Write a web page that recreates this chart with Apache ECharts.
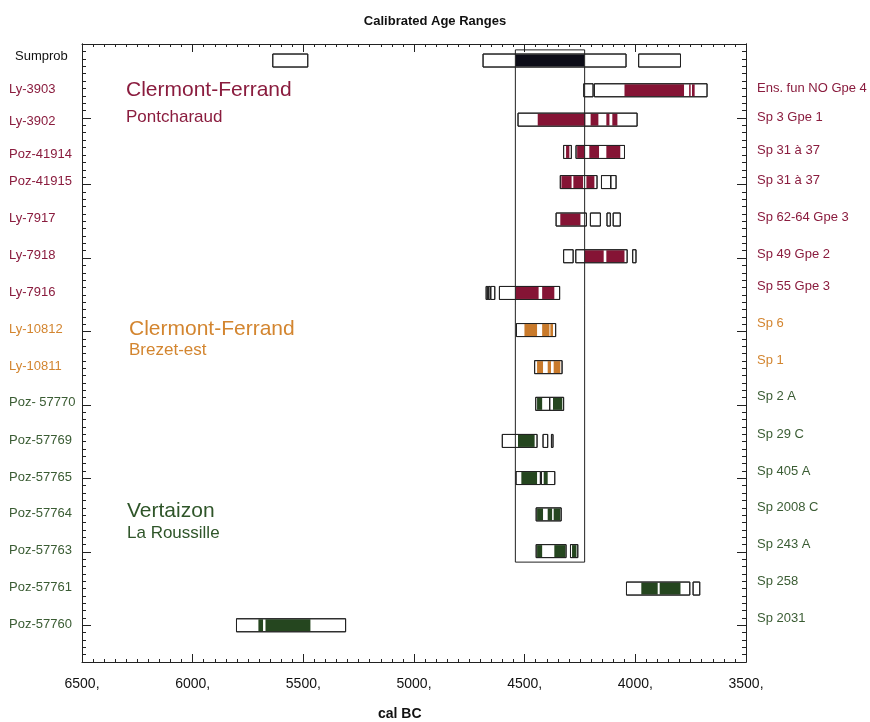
<!DOCTYPE html>
<html>
<head>
<meta charset="utf-8">
<script src="https://cdn.jsdelivr.net/npm/echarts@6/dist/echarts.min.js"></script>
<style>
  html, body { margin: 0; padding: 0; background: #fff; }
  #chart { width: 870px; height: 722px; }
</style>
</head>
<body>
<div id="chart"></div>
<script>
// echantillons (de haut en bas)
var labelsLeft = ['Sumprob', 'Ly-3903', 'Ly-3902', 'Poz-41914', 'Poz-41915', 'Ly-7917', 'Ly-7918', 'Ly-7916',
    'Ly-10812', 'Ly-10811', 'Poz- 57770', 'Poz-57769', 'Poz-57765', 'Poz-57764', 'Poz-57763', 'Poz-57761', 'Poz-57760'];
var labelsRight = ['', 'Ens. fun NO Gpe 4', 'Sp 3 Gpe 1', 'Sp 31 à 37', 'Sp 31 à 37', 'Sp 62-64 Gpe 3', 'Sp 49 Gpe 2', 'Sp 55 Gpe 3',
    'Sp 6', 'Sp 1', 'Sp 2 A', 'Sp 29 C', 'Sp 405 A', 'Sp 2008 C', 'Sp 243 A', 'Sp 258', 'Sp 2031'];
// 0 = somme, 1 = Pontcharaud, 2 = Brezet-est, 3 = Vertaizon
var rowGroup = [0, 1, 1, 1, 1, 1, 1, 1, 2, 2, 3, 3, 3, 3, 3, 3, 3];
// position verticale de chaque ligne
var rowPos = [15.38, 14.57, 13.77, 12.89, 12.07, 11.05, 10.05, 9.05, 8.04, 7.03, 6.03, 5.02, 4.01, 3.02, 2.02, 1, 0];
// intervalles 95,4 % (cadres blancs), cal BC
var ranges95 = [
    [[5638, 5480], [4688, 4042], [3985, 3796]],
    [[4233, 4191], [4185, 3676]],
    [[4530, 3992]],
    [[4324, 4289], [4268, 4049]],
    [[4339, 4173], [4153, 4111], [4111, 4087]],
    [[4358, 4221], [4203, 4158], [4128, 4113], [4100, 4068]],
    [[4324, 4281], [4269, 4037], [4012, 3997]],
    [[4674, 4667], [4664, 4656], [4653, 4635], [4614, 4342]],
    [[4537, 4360]],
    [[4455, 4331]],
    [[4450, 4387], [4387, 4324]],
    [[4601, 4444], [4417, 4396], [4379, 4372]],
    [[4539, 4429], [4424, 4364]],
    [[4448, 4335]],
    [[4448, 4313], [4293, 4260]],
    [[4040, 3754], [3739, 3709]],
    [[5802, 5309]]
];
// intervalles 68,2 % (remplis)
var ranges68 = [
    [[4542, 4230]],
    [[4049, 3780], [3757, 3750], [3744, 3732]],
    [[4441, 4226], [4202, 4167], [4131, 4117], [4104, 4081]],
    [[4313, 4298], [4263, 4229], [4208, 4164], [4131, 4068]],
    [[4334, 4288], [4280, 4236], [4221, 4185]],
    [[4339, 4248]],
    [[4229, 4143], [4131, 4049]],
    [[4542, 4437], [4421, 4366]],
    [[4501, 4444], [4421, 4388], [4384, 4372]],
    [[4444, 4417], [4396, 4381], [4369, 4339]],
    [[4444, 4421], [4372, 4330]],
    [[4530, 4455]],
    [[4515, 4444], [4414, 4396]],
    [[4444, 4417], [4396, 4376], [4369, 4339]],
    [[4444, 4421], [4366, 4316], [4286, 4266]],
    [[3973, 3899], [3890, 3796]],
    [[5703, 5682], [5671, 5468]]
];
// cadre de la somme : de / a (cal BC), haut / bas
var sumFrame = [4542, 4229, 15.67, 1.72];

var fillColors = ['#0d0d18', '#851435', '#c97a2b', '#25461f'];
var textColors = ['#111111', '#8a1c3e', '#d3852f', '#3a5c33'];
var FONT = '"Liberation Sans", Arial, sans-serif';

// graduations de l'axe vertical
var yMajor = [0, 2, 4, 6, 8, 10, 12, 13.82];
var yMinor = [];
(function () {
    var v, k;
    for (k = 1; k < 65; k++) {
        v = -1 + k * 0.2;
        if (Math.abs(v - Math.round(v / 2) * 2) > 0.05) {
            yMinor.push(+v.toFixed(2));
        }
    }
    for (k = 1; k < 9; k++) {
        yMinor.push(12 + k * 1.82 / 9);
    }
    for (k = 1; k < 10; k++) {
        yMinor.push(13.82 + k * 0.2);
    }
})();

function renderRow(params, api) {
    var i = api.value(0);
    var y = rowPos[i];
    var h = 13;
    var g = rowGroup[i];
    var children = [];
    var c = api.coord([4500, y]);
    function box(r) {
        var p0 = api.coord([r[0], y]), p1 = api.coord([r[1], y]);
        return { x: Math.min(p0[0], p1[0]), w: Math.abs(p1[0] - p0[0]) };
    }
    ranges95[i].forEach(function (r) {
        var b = box(r);
        children.push({ type: 'rect', shape: { x: b.x, y: c[1] - h / 2, width: b.w, height: h },
            style: { fill: '#fff', stroke: '#222', lineWidth: 1 } });
    });
    ranges68[i].forEach(function (r) {
        var b = box(r);
        children.push({ type: 'rect', shape: { x: b.x, y: c[1] - h / 2 + 0.5, width: b.w, height: h - 1 },
            style: { fill: fillColors[g] } });
    });
    ranges95[i].forEach(function (r) {
        var b = box(r);
        children.push({ type: 'rect', shape: { x: b.x, y: c[1] - h / 2, width: b.w, height: h },
            style: { fill: null, stroke: '#222', lineWidth: 1 } });
    });
    // libelles gauche et droite
    children.push({ type: 'text', x: i === 0 ? 15 : 9, y: c[1] + (i === 0 ? -4 : (i === 2 || i === 3) ? 2 : -1),
        style: { text: labelsLeft[i], fill: textColors[g], font: '13px ' + FONT, align: 'left', verticalAlign: 'middle' } });
    if (labelsRight[i]) {
        children.push({ type: 'text', x: 757, y: c[1] - (i >= 7 ? 7 : 2),
            style: { text: labelsRight[i], fill: textColors[g], font: '13px ' + FONT, align: 'left', verticalAlign: 'middle' } });
    }
    return { type: 'group', children: children };
}

function renderFrame(params, api) {
    var p0 = api.coord([sumFrame[0], sumFrame[2]]);
    var p1 = api.coord([sumFrame[1], sumFrame[3]]);
    return {
        type: 'rect',
        shape: { x: Math.min(p0[0], p1[0]), y: p0[1], width: Math.abs(p1[0] - p0[0]), height: p1[1] - p0[1] },
        style: { fill: null, stroke: '#222', lineWidth: 1 }
    };
}

var lineStyle = { color: '#222', width: 1 };

function xAxisCfg(pos, labels) {
    return {
        type: 'value', position: pos, min: 3500, max: 6500, interval: 500, inverse: true,
        axisLine: { show: true, onZero: false, lineStyle: lineStyle },
        axisTick: { show: true, inside: true, length: 8, lineStyle: lineStyle },
        minorTick: { show: true, splitNumber: 10, length: 3, lineStyle: lineStyle },
        axisLabel: { show: labels, margin: 15, fontSize: 14, color: '#111', fontFamily: FONT,
            formatter: function (v) { return v + ','; } },
        splitLine: { show: false }
    };
}

function yAxisCfg(pos, ticks, len) {
    return {
        type: 'value', position: pos, min: -1, max: 15.83,
        axisLine: { show: true, onZero: false, lineStyle: lineStyle },
        axisTick: { show: true, inside: true, length: len, customValues: ticks, lineStyle: lineStyle },
        axisLabel: { show: false },
        splitLine: { show: false }
    };
}

var chart = echarts.init(document.getElementById('chart'));
chart.setOption({
    animation: false,
    backgroundColor: '#fff',
    title: {
        text: 'Calibrated Age Ranges', left: 'center', top: 10,
        textStyle: { fontSize: 13, fontWeight: 'bold', color: '#111', fontFamily: FONT }
    },
    grid: { left: 82, right: 124, top: 44, bottom: 60 },
    xAxis: [xAxisCfg('bottom', true), xAxisCfg('top', false)],
    yAxis: [
        yAxisCfg('left', yMajor, 9),
        yAxisCfg('right', yMajor, 9),
        yAxisCfg('left', yMinor, 4),
        yAxisCfg('right', yMinor, 4)
    ],
    graphic: [
        { type: 'text', left: 126, top: 80, style: { text: 'Clermont-Ferrand', fill: '#8a1c3e', font: '21px ' + FONT } },
        { type: 'text', left: 126, top: 109, style: { text: 'Pontcharaud', fill: '#8a1c3e', font: '17px ' + FONT } },
        { type: 'text', left: 129, top: 319, style: { text: 'Clermont-Ferrand', fill: '#d3852f', font: '21px ' + FONT } },
        { type: 'text', left: 129, top: 342, style: { text: 'Brezet-est', fill: '#d3852f', font: '17px ' + FONT } },
        { type: 'text', left: 127, top: 501, style: { text: 'Vertaizon', fill: '#2f5529', font: '21px ' + FONT } },
        { type: 'text', left: 127, top: 525, style: { text: 'La Roussille', fill: '#2f5529', font: '17px ' + FONT } },
        { type: 'text', left: 378, top: 707, style: { text: 'cal BC', fill: '#111', font: 'bold 14px ' + FONT } }
    ],
    series: [
        {
            type: 'custom',
            renderItem: renderRow,
            clip: false,
            data: labelsLeft.map(function (n, i) { return [i]; }),
            encode: { x: -1, y: -1 },
            z: 2
        },
        {
            type: 'custom',
            renderItem: renderFrame,
            clip: false,
            data: [[0]],
            encode: { x: -1, y: -1 },
            z: 3
        }
    ]
});
</script>
</body>
</html>
